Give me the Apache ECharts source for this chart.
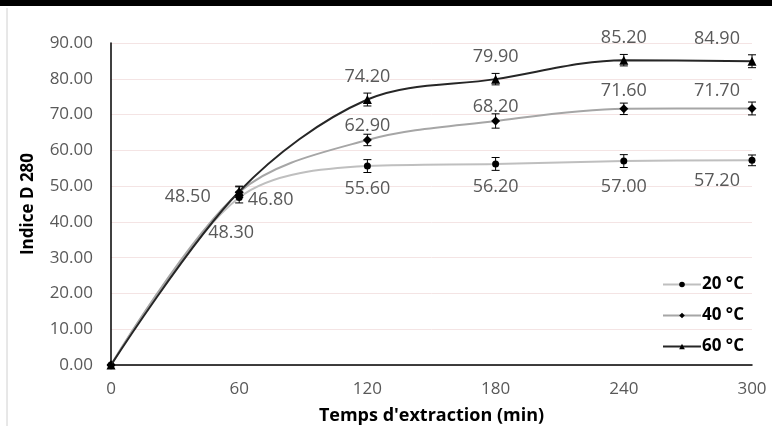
<!DOCTYPE html>
<html>
<head>
<meta charset="utf-8">
<script src="https://cdn.jsdelivr.net/npm/echarts@6/dist/echarts.min.js"></script>
<style>
html, body { margin: 0; padding: 0; background: #fff; }
#main { width: 772px; height: 426px; }
</style>
</head>
<body>
<div id="main"></div>
<script>
// données
var temps = [0, 60, 120, 180, 240, 300];
var d20 = [0, 46.8, 55.6, 56.2, 57.0, 57.2];
var d40 = [0, 48.3, 62.9, 68.2, 71.6, 71.7];
var d60 = [0, 48.5, 74.2, 79.9, 85.2, 84.9];
var err20 = [0, 1.5, 1.8, 1.8, 1.8, 1.5];
var err40 = [0, 1.5, 1.6, 2.0, 1.6, 1.8];
var err60 = [0, 1.5, 1.8, 1.6, 1.6, 1.8];
var yTicks = [0, 10, 20, 30, 40, 50, 60, 70, 80, 90];

var chart = echarts.init(document.getElementById('main'));

var font = 'Open Sans';

function pts(vals) {
    return temps.map(function (t, i) { return [t, vals[i]]; });
}

function errs(vals, e) {
    return temps.map(function (t, i) { return [t, vals[i] - e[i], vals[i] + e[i]]; });
}

// positions des étiquettes (déplacées à la main comme dans Excel)
function lbl(series, i) {
    var base = { show: i > 0, color: '#595959', fontSize: 18, fontFamily: font,
        formatter: function (p) { return p.value[1].toFixed(2); } };
    if (series === 20) {
        base.position = 'bottom'; base.distance = 10;
        if (i === 1) { base.position = 'right'; base.distance = 5; base.offset = [0, 2]; }
        if (i === 4) base.distance = 13;
        if (i === 5) base.offset = [-35, -2];
    } else if (series === 40) {
        base.position = 'top'; base.distance = 1;
        if (i === 1) { base.position = 'bottom'; base.distance = 27; base.offset = [-8, 0]; }
        if (i >= 4) base.distance = 4;
        if (i === 5) base.offset = [-35, 0];
    } else {
        base.position = 'top'; base.distance = 9;
        if (i === 1) { base.position = 'left'; base.distance = 24; base.offset = [0, 5]; }
        if (i === 5) base.offset = [-35, 0];
    }
    return base;
}

function lineSeries(name, vals, color, symbol, size, key) {
    return {
        name: name,
        type: 'line',
        smooth: 0.33,
        data: pts(vals).map(function (p, i) {
            return { value: p, label: lbl(key, i) };
        }),
        symbol: symbol,
        symbolSize: size,
        itemStyle: { color: '#000' },
        lineStyle: { color: color, width: 2 },
        z: key === 60 ? 4 : 3
    };
}

function errSeries(vals, e) {
    return {
        type: 'custom',
        data: errs(vals, e),
        z: 5,
        silent: true,
        renderItem: function (params, api) {
            var lo = api.coord([api.value(0), api.value(1)]);
            var hi = api.coord([api.value(0), api.value(2)]);
            var w = 4;
            var st = { stroke: '#000', lineWidth: 1 };
            return {
                type: 'group',
                children: [
                    { type: 'line', shape: { x1: lo[0], y1: lo[1], x2: hi[0], y2: hi[1] }, style: st },
                    { type: 'line', shape: { x1: lo[0] - w, y1: lo[1], x2: lo[0] + w, y2: lo[1] }, style: st },
                    { type: 'line', shape: { x1: hi[0] - w, y1: hi[1], x2: hi[0] + w, y2: hi[1] }, style: st }
                ]
            };
        }
    };
}

var option = {
    animation: false,
    backgroundColor: '#fff',
    textStyle: { fontFamily: font },
    graphic: [
        { type: 'rect', shape: { x: 0, y: 0, width: 772, height: 6 }, style: { fill: '#000' } },
        { type: 'line', shape: { x1: 7, y1: 8, x2: 7, y2: 426 }, style: { stroke: '#d0d0d0', lineWidth: 1 } }
    ],
    grid: { left: 111, right: 20, top: 43, bottom: 61, outerBoundsMode: 'none' },
    legend: {
        orient: 'vertical',
        left: 657,
        top: 271,
        itemWidth: 38,
        itemHeight: 7,
        itemGap: 14,
        textStyle: { color: '#000', fontSize: 17, fontWeight: 'bold', fontFamily: font, padding: [0, 0, 0, -4] },
        data: ['20 °C', '40 °C', '60 °C']
    },
    xAxis: {
        type: 'value',
        min: 0, max: 300, interval: 60,
        name: "Temps d'extraction (min)",
        nameLocation: 'middle',
        nameGap: 42,
        nameTextStyle: { color: '#000', fontSize: 18, fontWeight: 'bold', fontFamily: font },
        axisLine: { lineStyle: { color: '#000', width: 1.5 } },
        axisTick: { show: false },
        axisLabel: { color: '#595959', fontSize: 17, margin: 16, fontFamily: font },
        splitLine: { show: false }
    },
    yAxis: {
        type: 'value',
        min: yTicks[0], max: yTicks[yTicks.length - 1], interval: 10,
        name: 'Indice D 280',
        nameLocation: 'middle',
        nameGap: 74,
        nameTextStyle: { color: '#000', fontSize: 17, fontWeight: 'bold', fontFamily: font },
        axisLine: { show: true, lineStyle: { color: '#000', width: 1.5 } },
        axisTick: { show: false },
        axisLabel: { color: '#595959', fontSize: 17, margin: 18, fontFamily: font,
            formatter: function (v) { return v.toFixed(2); } },
        splitLine: { lineStyle: { color: '#f4e4e4', width: 1 } }
    },
    series: [
        lineSeries('20 °C', d20, '#bfbfbf', 'circle', 7, 20),
        lineSeries('40 °C', d40, '#a6a6a6', 'diamond', 9, 40),
        lineSeries('60 °C', d60, '#262626', 'triangle', 9, 60),
        errSeries(d20, err20),
        errSeries(d40, err40),
        errSeries(d60, err60)
    ]
};

chart.setOption(option);
</script>
</body>
</html>
